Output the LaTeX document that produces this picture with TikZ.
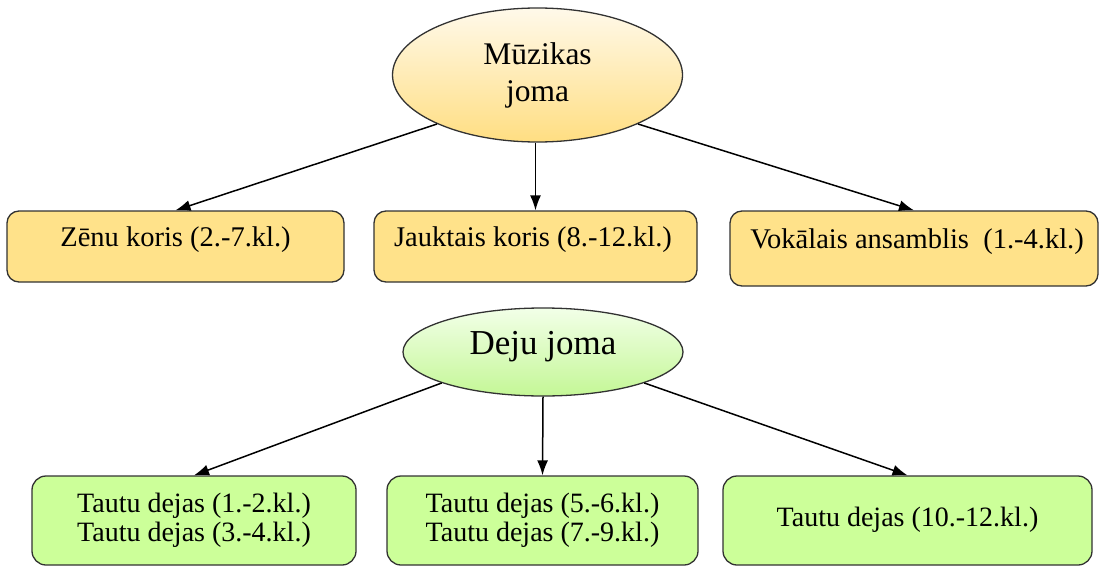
\documentclass[tikz,border=0pt]{standalone}
\usepackage{fontspec}
\setmainfont{Liberation Serif}
\usetikzlibrary{shapes.geometric,arrows.meta}
\definecolor{boxyellow}{RGB}{255,226,138}
\definecolor{elltop}{RGB}{255,249,234}
\definecolor{ellbot}{RGB}{255,222,130}
\definecolor{boxgreen}{RGB}{204,255,153}
\definecolor{gtop}{RGB}{242,255,232}
\definecolor{gbot}{RGB}{196,247,150}
\definecolor{edge}{RGB}{50,50,50}
\tikzset{
  ybox/.style={draw=edge, line width=1.3pt, rounded corners=12pt, fill=boxyellow, inner sep=0pt},
  gbox/.style={draw=edge, line width=1.3pt, rounded corners=14pt, fill=boxgreen, inner sep=0pt},
  boxtext/.style={inner sep=0pt, font=\fontsize{28.5}{30}\selectfont},
  gtext/.style={inner sep=0pt, align=center, font=\fontsize{28}{29}\selectfont},
  yell/.style={ellipse, draw=edge, line width=1.3pt, top color=elltop, bottom color=ellbot, inner sep=0pt, align=center},
  gell/.style={ellipse, draw=edge, line width=1.3pt, top color=gtop, bottom color=gbot, inner sep=0pt},
  conn/.style={line width=1.5pt, -{Latex[length=15pt,width=11pt]}}
}
\begin{document}
\begin{tikzpicture}[x=1pt,y=-1pt]
\useasboundingbox (0,0) rectangle (1102,567);
% top ellipse
\node[yell, minimum width=290pt, minimum height=134pt, font=\fontsize{31.5}{37}\selectfont] (muz) at (537.5,75) {Mūzikas\\joma};
% top boxes
\node[ybox, minimum width=337pt, minimum height=71pt] (zenu) at (175.5,246.5) {};
\node[boxtext] (zenut) at (175.5,240) {Zēnu koris (2.-7.kl.)};
\node[ybox, minimum width=323pt, minimum height=71pt] (jauk) at (535.5,246.5) {};
\node[boxtext] (jaukt) at (533,240) {Jauktais koris (8.-12.kl.)};
\node[ybox, minimum width=368pt, minimum height=75pt] (vok) at (914,248.5) {};
\node[boxtext] (vokt) at (917,242) {Vokālais ansamblis\ \ (1.-4.kl.)};
% bottom ellipse
\node[gell, minimum width=280pt, minimum height=88pt] (deju) at (543,352) {};
\node[inner sep=0pt, font=\fontsize{35}{38}\selectfont] (dejut) at (543,347) {Deju joma};
% bottom boxes
\node[gbox, minimum width=324pt, minimum height=89pt] (t1) at (194,520.5) {};
\node[gtext] (t1t) at (194,520) {Tautu dejas (1.-2.kl.)\\Tautu dejas (3.-4.kl.)};
\node[gbox, minimum width=311pt, minimum height=89pt] (t2) at (542.5,520.5) {};
\node[gtext] (t2t) at (542.5,520) {Tautu dejas (5.-6.kl.)\\Tautu dejas (7.-9.kl.)};
\node[gbox, minimum width=369pt, minimum height=89pt] (t3) at (907.5,520.5) {};
\node[gtext] (t3t) at (907.5,520) {Tautu dejas (10.-12.kl.)};
% connectors
\draw[conn] (muz.206) -- (zenu.north);
\draw[conn] (muz.south -| jauk.north) -- (jauk.north);
\draw[conn] (muz.334) -- (vok.north);
\draw[conn] (deju.197) -- (t1.north);
\draw[conn] (deju.south) -- (t2.north);
\draw[conn] (deju.343) -- (t3.north);
\end{tikzpicture}
\end{document}
